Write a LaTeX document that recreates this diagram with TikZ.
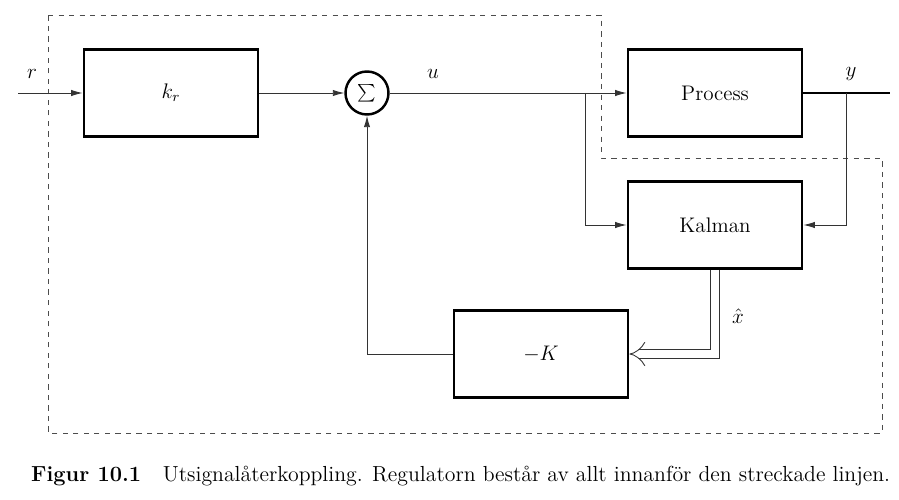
\documentclass[tikz,border=0pt]{standalone}
\usetikzlibrary{arrows.meta,positioning}

\begin{document}
\begin{tikzpicture}[
  x=0.02cm, y=-0.02cm,
  font=\fontsize{12}{14}\selectfont,
  block/.style={draw, line width=1.6pt, minimum width=3.48cm, minimum height=1.74cm, align=center},
  sumnode/.style={draw, circle, line width=1.4pt, minimum size=0.86cm, inner sep=0pt},
  sig/.style={draw=black!80, line width=0.5pt},
  >={Latex[length=6.5pt,width=3.6pt]}
]
  \useasboundingbox (0,0) rectangle (899,500);
  % controller boundary
  \draw[dashed, black!70, line width=0.5pt] (48,15) -- (601,15) -- (601,158) -- (882,158) -- (882,433) -- (48,433) -- cycle;
  \node[block] (kr) at (171,93) {$k_r$};
  \node[sumnode] (sum) at (367,93) {$\sum$};
  \node[block] (proc) at (715,93) {Process};
  \node[block] (kal) at (715,225) {Kalman};
  \node[block] (negK) at (541,354) {$-K$};
  \coordinate (rin) at (18,93);
  \coordinate (ubr) at (585,93);
  \coordinate (ybr) at (846,93);
  \coordinate (yout) at (890,93);
  \draw[sig,->] (rin) -- (kr);
  \draw[sig,->] (kr) -- (sum);
  \draw[sig,->] (sum) -- (proc);
  \draw[sig,->] (ubr) |- (kal.west);
  \draw[line width=1.6pt] (proc) -- (yout);
  \draw[sig,->] (ybr) |- (kal.east);
  \draw[sig, double, double distance=4.5pt, -{Implies[length=5pt,width=9pt]}] (kal.south) |- (negK.east);
  \draw[sig,->] (negK.west) -| (sum.south);
  % signal names
  \node (rlab) at (32,74) {$r$};
  \node (ulab) at (433,74) {$u$};
  \node (ylab) at (851,74) {$y$};
  \node (xlab) at (738,316) {$\hat{x}$};
  \node[anchor=west, font=\fontsize{12.4}{14}\selectfont] (cap) at (25,476) {\textbf{Figur 10.1}\hspace{1em}Utsignalåterkoppling. Regulatorn består av allt innanför den streckade linjen.};
\end{tikzpicture}
\end{document}
